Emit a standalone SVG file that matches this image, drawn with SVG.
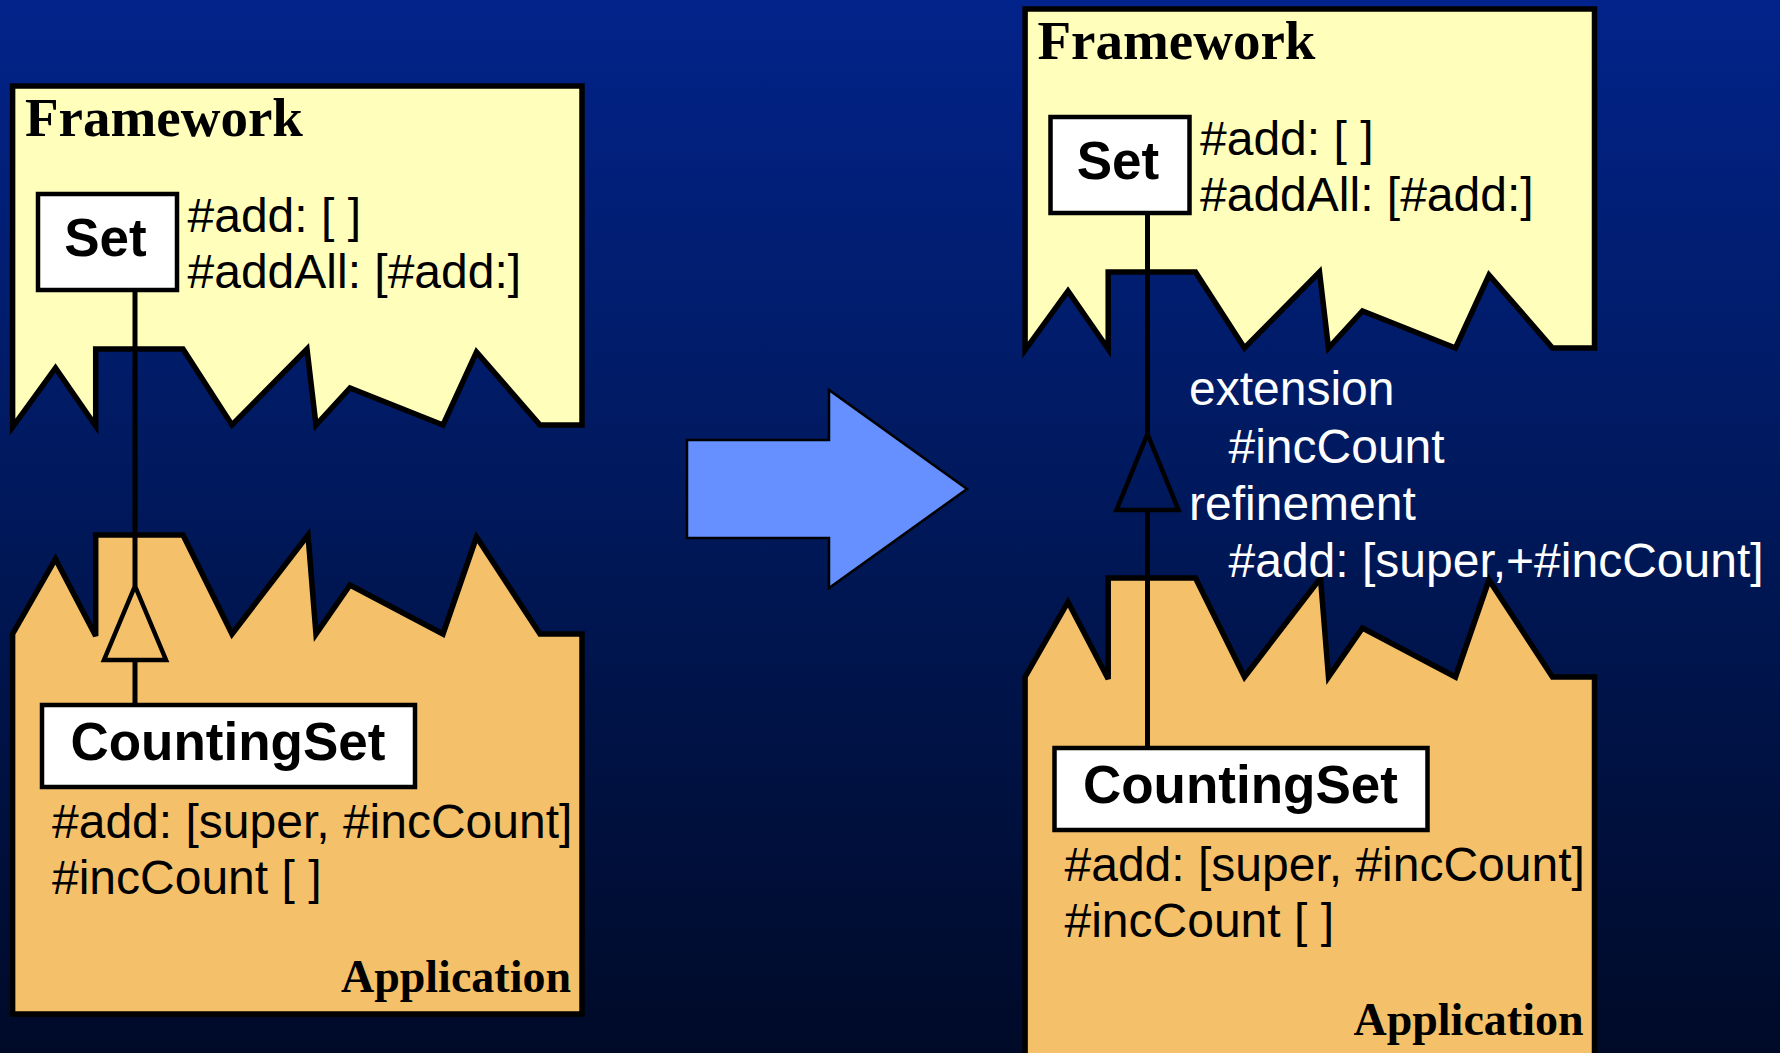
<svg xmlns="http://www.w3.org/2000/svg" xmlns:xlink="http://www.w3.org/1999/xlink" width="1780" height="1053" viewBox="0 0 1780 1053">
  <defs>
    <linearGradient id="bg" x1="0" y1="0" x2="0" y2="1">
      <stop offset="0" stop-color="#02238A"/>
      <stop offset="0.5" stop-color="#001859"/>
      <stop offset="1" stop-color="#000A28"/>
    </linearGradient>
    <!-- torn-edge outlines shared by both versions -->
    <path id="fwShape" d="M12.6,86 L582,86 L582,425 L540,425 L476.5,352 L443,425 L350,388 L316,425 L307,349 L232,425 L183,349 L95.7,349 L95.7,426 L55.5,368 L12.6,427 Z"/>
    <path id="appShape" d="M12.6,634 L55.5,559 L95.7,636 L95.7,535 L183,535 L232,634 L308,535 L316,634 L350,585 L443,634 L476.5,537 L540,634 L582,634 L582,1014 L12.6,1014 Z"/>
  </defs>
  <style>
    .fw { fill: #FFFFBB; stroke: #000; stroke-width: 5.5; stroke-linejoin: miter; }
    .app { fill: #F5C06A; stroke: #000; stroke-width: 5.5; stroke-linejoin: miter; }
    .box { fill: #FFFFFF; stroke: #000; stroke-width: 4.5; }
    .title { font-family: "Liberation Serif", "Times New Roman", serif; font-weight: bold; fill: #000; }
    .cls { font-family: "Liberation Sans", Arial, sans-serif; font-weight: bold; fill: #000; }
    .meth { font-family: "Liberation Sans", Arial, sans-serif; font-size: 48px; fill: #000; }
    .note { font-family: "Liberation Sans", Arial, sans-serif; font-size: 48px; fill: #FFFFFF; }
    .link { stroke: #000; stroke-width: 5; fill: none; }
    .tri { stroke: #000; stroke-width: 4.5; fill: none; stroke-linejoin: miter; }
  </style>

  <rect x="0" y="0" width="1780" height="1053" fill="url(#bg)"/>

  <!-- before: framework and application -->
  <g id="framework-before">
    <use xlink:href="#fwShape" class="fw"/>
    <text class="title" x="25" y="136" font-size="55">Framework</text>
  </g>
  <g id="set-before">
    <rect class="box" x="38" y="194" width="139" height="96"/>
    <text class="cls" x="105.5" y="256" font-size="53" text-anchor="middle">Set</text>
    <text class="meth" x="187.5" y="232">#add: [ ]</text>
    <text class="meth" x="187.5" y="288">#addAll: [#add:]</text>
  </g>
  <g id="application-before">
    <use xlink:href="#appShape" class="app"/>
    <text class="title" x="571" y="992" font-size="46" text-anchor="end">Application</text>
  </g>
  <g id="countingset-before">
    <rect class="box" x="42" y="705" width="373" height="82"/>
    <text class="cls" x="70.4" y="759.6" font-size="53">CountingSet</text>
    <text class="meth" x="52" y="838">#add: [super, #incCount]</text>
    <text class="meth" x="52" y="894">#incCount [ ]</text>
  </g>

  <!-- transition arrow -->
  <g id="transition">
    <polygon points="687,440 829,440 829,390 967,489 829,588 829,538 687,538" fill="#6690FF" stroke="#000" stroke-width="2.5"/>
  </g>

  <!-- after: same parts, moved apart -->
  <g id="framework-after" transform="translate(1012.5,-77)">
    <use xlink:href="#fwShape" class="fw"/>
    <text class="title" x="25" y="136" font-size="55">Framework</text>
  </g>
  <g id="set-after" transform="translate(1012.5,-77)">
    <rect class="box" x="38" y="194" width="139" height="96"/>
    <text class="cls" x="105.5" y="256" font-size="53" text-anchor="middle">Set</text>
    <text class="meth" x="187.5" y="232">#add: [ ]</text>
    <text class="meth" x="187.5" y="288">#addAll: [#add:]</text>
  </g>
  <g id="application-after" transform="translate(1012.5,43)">
    <use xlink:href="#appShape" class="app"/>
    <text class="title" x="571" y="992" font-size="46" text-anchor="end">Application</text>
  </g>
  <g id="countingset-after" transform="translate(1012.5,43)">
    <rect class="box" x="42" y="705" width="373" height="82"/>
    <text class="cls" x="70.4" y="759.6" font-size="53">CountingSet</text>
    <text class="meth" x="52" y="838">#add: [super, #incCount]</text>
    <text class="meth" x="52" y="894">#incCount [ ]</text>
  </g>

  <g id="connector-label">
    <text class="note" x="1189" y="405">extension</text>
    <text class="note" x="1228.5" y="463">#incCount</text>
    <text class="note" x="1189" y="520">refinement</text>
    <text class="note" x="1228.5" y="577">#add: [super,+#incCount]</text>
  </g>

  <!-- inheritance links -->
  <g id="connectors">
    <line class="link" x1="135" y1="290" x2="135" y2="586"/>
    <polygon class="tri" points="135,586 166,660 104,660"/>
    <line class="link" x1="135" y1="660" x2="135" y2="705"/>

    <line class="link" x1="1147.5" y1="213" x2="1147.5" y2="434"/>
    <polygon class="tri" points="1147.5,434 1178.5,510 1116.5,510"/>
    <line class="link" x1="1147.5" y1="510" x2="1147.5" y2="748"/>
  </g>
</svg>
